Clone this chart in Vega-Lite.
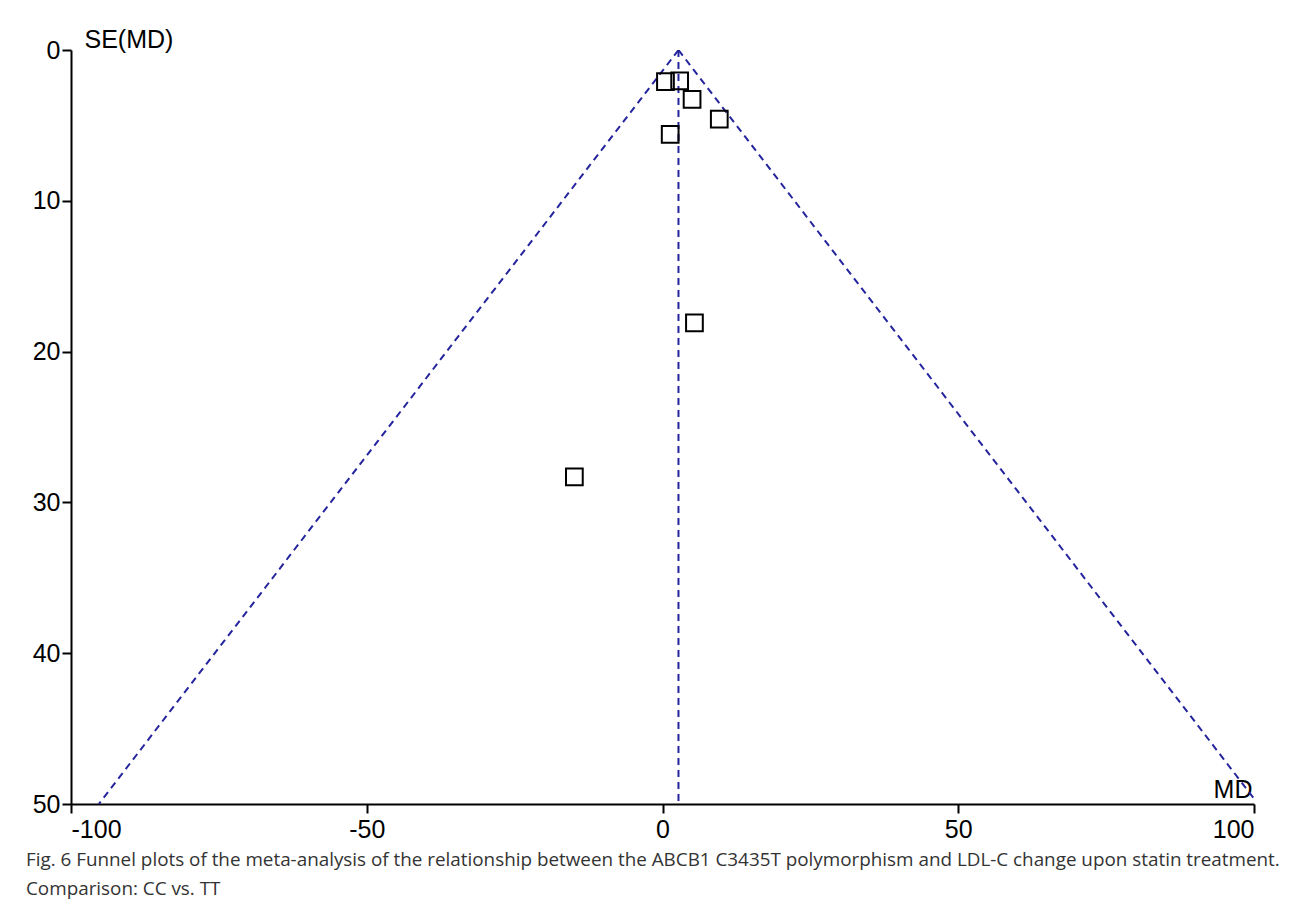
{
  "$schema": "https://vega.github.io/schema/vega-lite/v6.json",
  "width": 1183,
  "height": 754,
  "autosize": {"type": "none"},
  "padding": {"left": 71, "top": 50, "right": 39, "bottom": 105},
  "background": "white",
  "config": {
    "view": {"stroke": null},
    "axis": {
      "grid": false,
      "domainColor": "black",
      "domainWidth": 2,
      "tickColor": "black",
      "tickWidth": 2,
      "tickSize": 9,
      "labelFont": "Liberation Sans",
      "labelFontSize": 25,
      "labelColor": "black",
      "titleFont": "Liberation Sans",
      "titleFontSize": 25,
      "titleFontWeight": "normal",
      "titleColor": "black"
    }
  },
  "title": {
    "text": ["Fig. 6 Funnel plots of the meta-analysis of the relationship between the ABCB1 C3435T polymorphism and LDL-C change upon statin treatment.", "Comparison: CC vs. TT"],
    "orient": "bottom",
    "anchor": "start",
    "frame": "group",
    "dx": -45,
    "offset": 9,
    "font": "Open Sans",
    "fontSize": 18.85,
    "fontWeight": "normal",
    "color": "#333333",
    "lineHeight": 29
  },
  "datasets": {
    "studies": [
      {"md": 0.5, "se": 2.1},
      {"md": 2.9, "se": 2.05},
      {"md": 5.0, "se": 3.27},
      {"md": 9.6, "se": 4.58},
      {"md": 1.3, "se": 5.6},
      {"md": 5.4, "se": 18.1},
      {"md": -14.9, "se": 28.3}
    ],
    "funnel": [
      {"grp": "left", "ord": 1, "md": 2.7, "se": 0},
      {"grp": "left", "ord": 2, "md": -95.3, "se": 50},
      {"grp": "right", "ord": 1, "md": 2.7, "se": 0},
      {"grp": "right", "ord": 2, "md": 100, "se": 49.64},
      {"grp": "center", "ord": 1, "md": 2.7, "se": 0},
      {"grp": "center", "ord": 2, "md": 2.7, "se": 50}
    ]
  },
  "layer": [
    {
      "data": {"name": "funnel"},
      "mark": {"type": "line", "color": "#24249c", "strokeWidth": 2, "strokeDash": [7, 5], "clip": true},
      "encoding": {
        "x": {
          "field": "md", "type": "quantitative",
          "scale": {"domain": [-100, 100], "nice": false, "zero": false},
          "axis": {
            "values": [-100, -50, 0, 50, 100],
            "labelExpr": "datum.value < 0 ? '-' + abs(datum.value) : '' + datum.value",
            "title": "MD",
            "titleAngle": 0,
            "titleAlign": "right",
            "titleBaseline": "alphabetic",
            "titleX": 1181,
            "titleY": -7,
            "labelPadding": 4
          }
        },
        "y": {
          "field": "se", "type": "quantitative",
          "scale": {"domain": [0, 50], "reverse": true, "nice": false, "zero": false},
          "axis": {
            "values": [0, 10, 20, 30, 40, 50],
            "title": "SE(MD)",
            "titleAngle": 0,
            "titleAlign": "left",
            "titleBaseline": "alphabetic",
            "titleX": 13,
            "titleY": -3,
            "labelPadding": 2
          }
        },
        "detail": {"field": "grp"},
        "order": {"field": "ord"}
      }
    },
    {
      "data": {"name": "studies"},
      "mark": {"type": "point", "shape": "square", "filled": false, "stroke": "black", "strokeWidth": 2, "size": 280, "opacity": 1},
      "encoding": {
        "x": {"field": "md", "type": "quantitative"},
        "y": {"field": "se", "type": "quantitative"}
      }
    }
  ]
}
